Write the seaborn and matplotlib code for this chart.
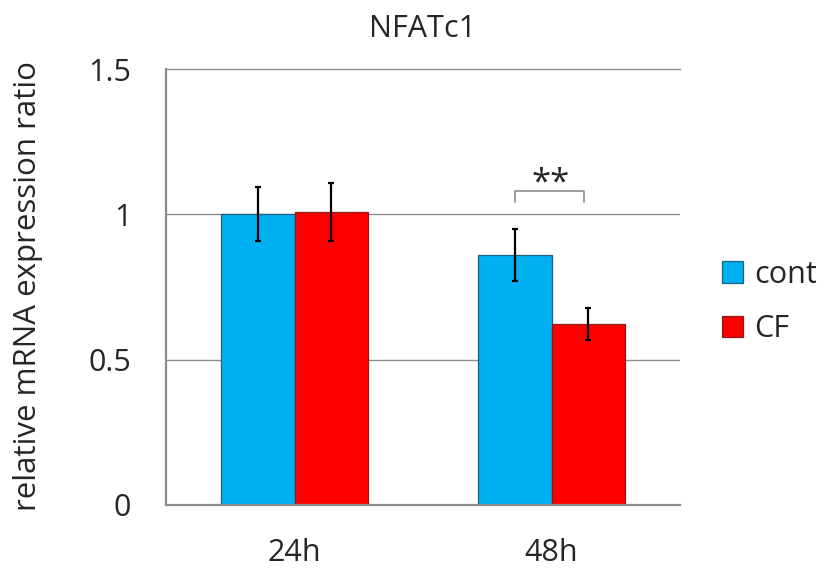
import matplotlib
matplotlib.use("Agg")
import matplotlib.pyplot as plt
import seaborn as sns
import pandas as pd

# values
times = ["24h", "48h"]
groups = ["cont", "CF"]
cont_mean = [1.00, 0.86]
cont_sd = [0.093, 0.09]
cf_mean = [1.008, 0.624]
cf_sd = [0.10, 0.055]
y_ticks = [0, 0.5, 1, 1.5]
y_tick_labels = ["0", "0.5", "1", "1.5"]
title = "NFATc1"
y_label = "relative mRNA expression ratio"
sig_label = "**"

colors = {"cont": "#00B0F0", "CF": "#FF0000"}
edge_colors = {"cont": "#1F5F80", "CF": "#8B1A1A"}
text_color = "#262626"
line_grey = "#8C8C8C"

sns.set_theme(style="white")
plt.rcParams["font.family"] = ["Open Sans", "DejaVu Sans"]

df = pd.DataFrame({
    "time": times * 2,
    "group": [groups[0]] * len(times) + [groups[1]] * len(times),
    "ratio": cont_mean + cf_mean,
    "sd": cont_sd + cf_sd,
})

fig = plt.figure(figsize=(8.25, 5.73), dpi=100)
ax = fig.add_axes([166 / 825, 68 / 573, 514 / 825, 436 / 573])

sns.barplot(data=df, x="time", y="ratio", hue="group", order=times,
            hue_order=groups, palette=colors, width=0.572, errorbar=None,
            saturation=1, ax=ax, legend=True)

# bar outlines and error bars
for container, grp in zip(ax.containers, groups):
    sub = df[df["group"] == grp].set_index("time").loc[times]
    xs = []
    for patch in container:
        patch.set_edgecolor(edge_colors[grp])
        patch.set_linewidth(0.9)
        xs.append(patch.get_x() + patch.get_width() / 2)
    ax.errorbar(xs, sub["ratio"].values, yerr=sub["sd"].values, fmt="none",
                ecolor="black", elinewidth=1.6, capsize=2.4, capthick=1.6,
                zorder=5)

ax.set_xlim(-0.5, 1.5)
ax.set_ylim(0, 1.5)
ax.set_yticks(y_ticks)
ax.set_yticklabels(y_tick_labels)
ax.set_xlabel("")
ax.set_ylabel("")
ax.tick_params(axis="y", length=0, pad=25, labelsize=22, labelcolor=text_color)
ax.tick_params(axis="x", length=0, pad=24, labelsize=22, labelcolor=text_color)

for y in [0.5, 1.0]:
    ax.axhline(y, color=line_grey, lw=1.0, zorder=0.5)
for side in ["left", "bottom", "top"]:
    ax.spines[side].set_visible(True)
    ax.spines[side].set_color(line_grey)
ax.spines["left"].set_linewidth(1.6)
ax.spines["bottom"].set_linewidth(1.6)
ax.spines["top"].set_linewidth(1.0)
ax.spines["right"].set_visible(False)

# significance bracket over the 48h pair
c48 = ax.containers[0][1]
f48 = ax.containers[1][1]
x_left = c48.get_x() + c48.get_width() / 2
x_right = f48.get_x() + f48.get_width() / 2 - 0.015
ax.plot([x_left, x_left, x_right, x_right], [1.043, 1.081, 1.081, 1.043],
        color=line_grey, lw=1.2, zorder=5)
ax.text((x_left + x_right) / 2 + 0.005, 1.105, sig_label, ha="center",
        va="center", fontsize=25, color=text_color)

leg = ax.legend(loc="center left", bbox_to_anchor=(1.052, 0.466), frameon=False,
                fontsize=22, handlelength=0.7, handleheight=0.7,
                handletextpad=0.35, labelspacing=0.8, borderpad=0)
for txt in leg.get_texts():
    txt.set_color(text_color)
for h, grp in zip(leg.legend_handles, groups):
    h.set_edgecolor(edge_colors[grp])
    h.set_linewidth(0.9)

fig.text(423 / 825, 1 - 29 / 573, title, ha="center", va="center",
         fontsize=22, color=text_color)
fig.text(28 / 825, 1 - 286 / 573, y_label, ha="center", va="center",
         rotation=90, fontsize=22.5, color=text_color)

fig.savefig("out.png", dpi=100, facecolor="white")
